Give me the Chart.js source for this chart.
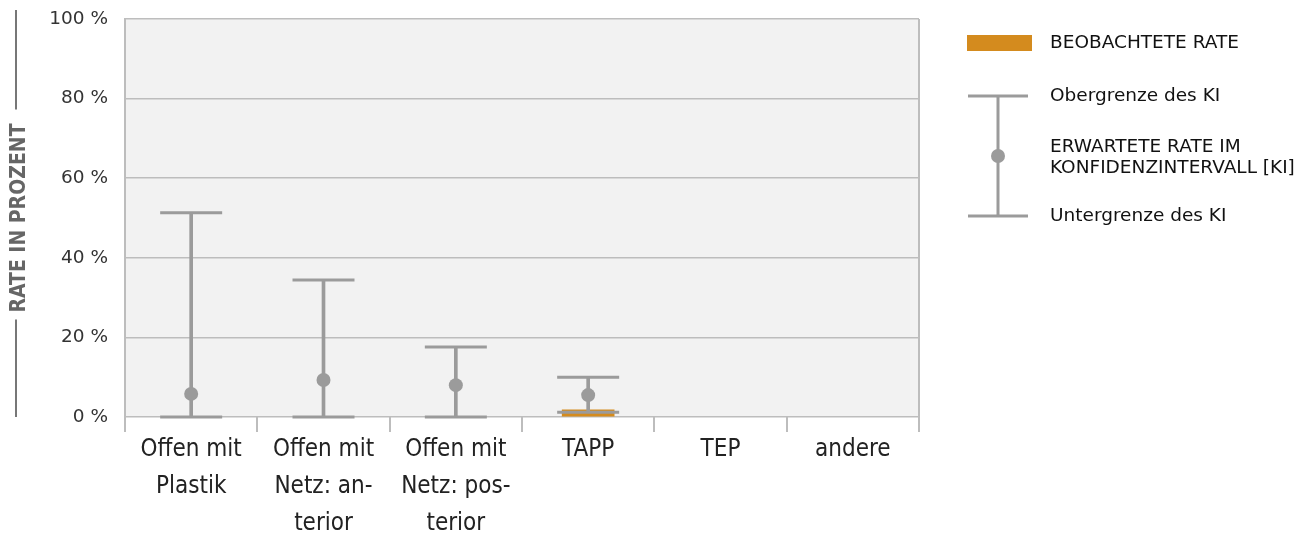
<!DOCTYPE html>
<html>
<head>
<meta charset="utf-8">
<script src="https://cdn.jsdelivr.net/npm/chart.js@4"></script>
<style>
html,body{margin:0;padding:0;background:#fff}
#wrap{width:1311px;height:537px}
</style>
</head>
<body>
<div id="wrap"><canvas id="c" width="1311" height="537"></canvas></div>
<script>
const categories = [["Offen mit","Plastik"],["Offen mit","Netz: an-","terior"],["Offen mit","Netz: pos-","terior"],"TAPP","TEP","andere"]
const observed = [null,null,null,1.8,null,null]
const expected = [5.8,9.3,8.0,5.5,null,null]
const upper = [51.3,34.4,17.6,10.0,null,null]
const lower = [0,0,0,1.2,null,null]
const yTicks = [0,20,40,60,80,100]
const yTitle = "RATE IN PROZENT"
const legendBar = "BEOBACHTETE RATE"
const legendUpper = "Obergrenze des KI"
const legendMid = ["ERWARTETE RATE IM","KONFIDENZINTERVALL [KI]"]
const legendLower = "Untergrenze des KI"

const grey = "#9b9b9b"
const orange = "#d48b1e"
const titleFont = "bold 21px 'DejaVu Sans Condensed'"

const ranges = upper.map((u,i)=> u==null ? null : [lower[i],u])

// caps of the KI whiskers, placed with the chart's own scales
const caps = {
id:"caps",
afterDatasetsDraw(chart){
const {ctx,scales:{x,y}} = chart
ctx.save()
ctx.strokeStyle=grey
ctx.lineWidth=3
ctx.beginPath()
upper.forEach((u,i)=>{
if(u==null) return
const cx = x.getPixelForValue(i)
;[u,lower[i]].forEach(v=>{
const py = y.getPixelForValue(v)
ctx.moveTo(cx-31,py)
ctx.lineTo(cx+31,py)
})
})
ctx.stroke()
ctx.restore()
}
}

// plot background + right border + decorative lines around y title + legend
const deco = {
id:"deco",
beforeDraw(chart){
const {ctx,chartArea:a} = chart
ctx.save()
ctx.fillStyle="#f2f2f2"
ctx.fillRect(a.left,a.top,a.right-a.left,a.bottom-a.top)
ctx.restore()
},
afterDraw(chart){
const {ctx,chartArea:a} = chart
ctx.save()
ctx.strokeStyle="#bdbdbd"
ctx.lineWidth=2
ctx.beginPath()
ctx.moveTo(a.right,a.top)
ctx.lineTo(a.right,a.bottom+15)
ctx.stroke()

// lines around y title
ctx.font=titleFont
const half = ctx.measureText(yTitle).width/2
const mid = (a.top+a.bottom)/2
ctx.strokeStyle="#777"
ctx.lineWidth=2
ctx.beginPath()
ctx.moveTo(16,a.top-9)
ctx.lineTo(16,mid-half-14)
ctx.moveTo(16,mid+half+7)
ctx.lineTo(16,a.bottom)
ctx.stroke()

// legend
const lx = a.right+48
const tx = a.right+131
ctx.fillStyle=orange
ctx.fillRect(lx,a.top+16,65,16)
ctx.strokeStyle=grey
ctx.lineWidth=3
const cx = lx+31
const yTop = a.top+77, yBot = a.top+197
ctx.beginPath()
ctx.moveTo(cx,yTop); ctx.lineTo(cx,yBot)
ctx.moveTo(cx-30,yTop); ctx.lineTo(cx+30,yTop)
ctx.moveTo(cx-30,yBot); ctx.lineTo(cx+30,yBot)
ctx.stroke()
ctx.fillStyle=grey
ctx.beginPath()
ctx.arc(cx,(yTop+yBot)/2,7,0,Math.PI*2)
ctx.fill()

ctx.fillStyle="#111"
ctx.font="18.5px 'DejaVu Sans'"
ctx.textBaseline="middle"
ctx.textAlign="left"
ctx.fillText(legendBar,tx,a.top+24)
ctx.fillText(legendUpper,tx,yTop)
ctx.fillText(legendMid[0],tx,a.top+128)
ctx.fillText(legendMid[1],tx,a.top+149)
ctx.fillText(legendLower,tx,yBot)
ctx.restore()
}
}

let chart = new Chart(document.getElementById("c"),{
data:{
labels:categories,
datasets:[
{
type:"bar",
label:legendBar,
data:observed,
backgroundColor:orange,
barThickness:52,
grouped:false,
order:3
},
{
type:"bar",
label:"KI",
data:ranges,
backgroundColor:grey,
barThickness:3,
grouped:false,
order:2
},
{
type:"line",
label:legendMid.join(" "),
data:expected,
showLine:false,
pointStyle:"circle",
pointRadius:7,
pointHoverRadius:7,
pointBorderWidth:0,
borderWidth:0,
borderColor:grey,
backgroundColor:grey,
order:1
}
]
},
options:{
responsive:false,
animation:false,
layout:{padding:{top:19,right:392,bottom:0,left:0}},
plugins:{legend:{display:false},tooltip:{enabled:false}},
scales:{
x:{
offset:true,
afterFit(s){s.height=120},
grid:{display:true,drawOnChartArea:false,offset:true,color:"#bdbdbd",lineWidth:2,tickLength:15},
border:{display:false},
ticks:{color:"#222",font:{family:"'DejaVu Sans Condensed'",size:24,lineHeight:1.54},padding:-1,maxRotation:0,autoSkip:false}
},
y:{
min:0,max:100,
afterFit(s){s.width=125;s.paddingTop=0},
afterBuildTicks(s){s.ticks=yTicks.map(v=>({value:v}))},
grid:{color:"#bdbdbd",lineWidth:1.5,drawTicks:false},
border:{display:true,color:"#bdbdbd",width:2},
ticks:{color:"#333",font:{family:"'DejaVu Sans'",size:18.5},padding:17,callback:v=>v+" %"},
title:{display:true,text:yTitle,color:"#666",font:{family:"'DejaVu Sans Condensed'",size:21,weight:"bold"},padding:{top:7,bottom:0}}
}
}
},
plugins:[caps,deco]
})
</script>
</body>
</html>
